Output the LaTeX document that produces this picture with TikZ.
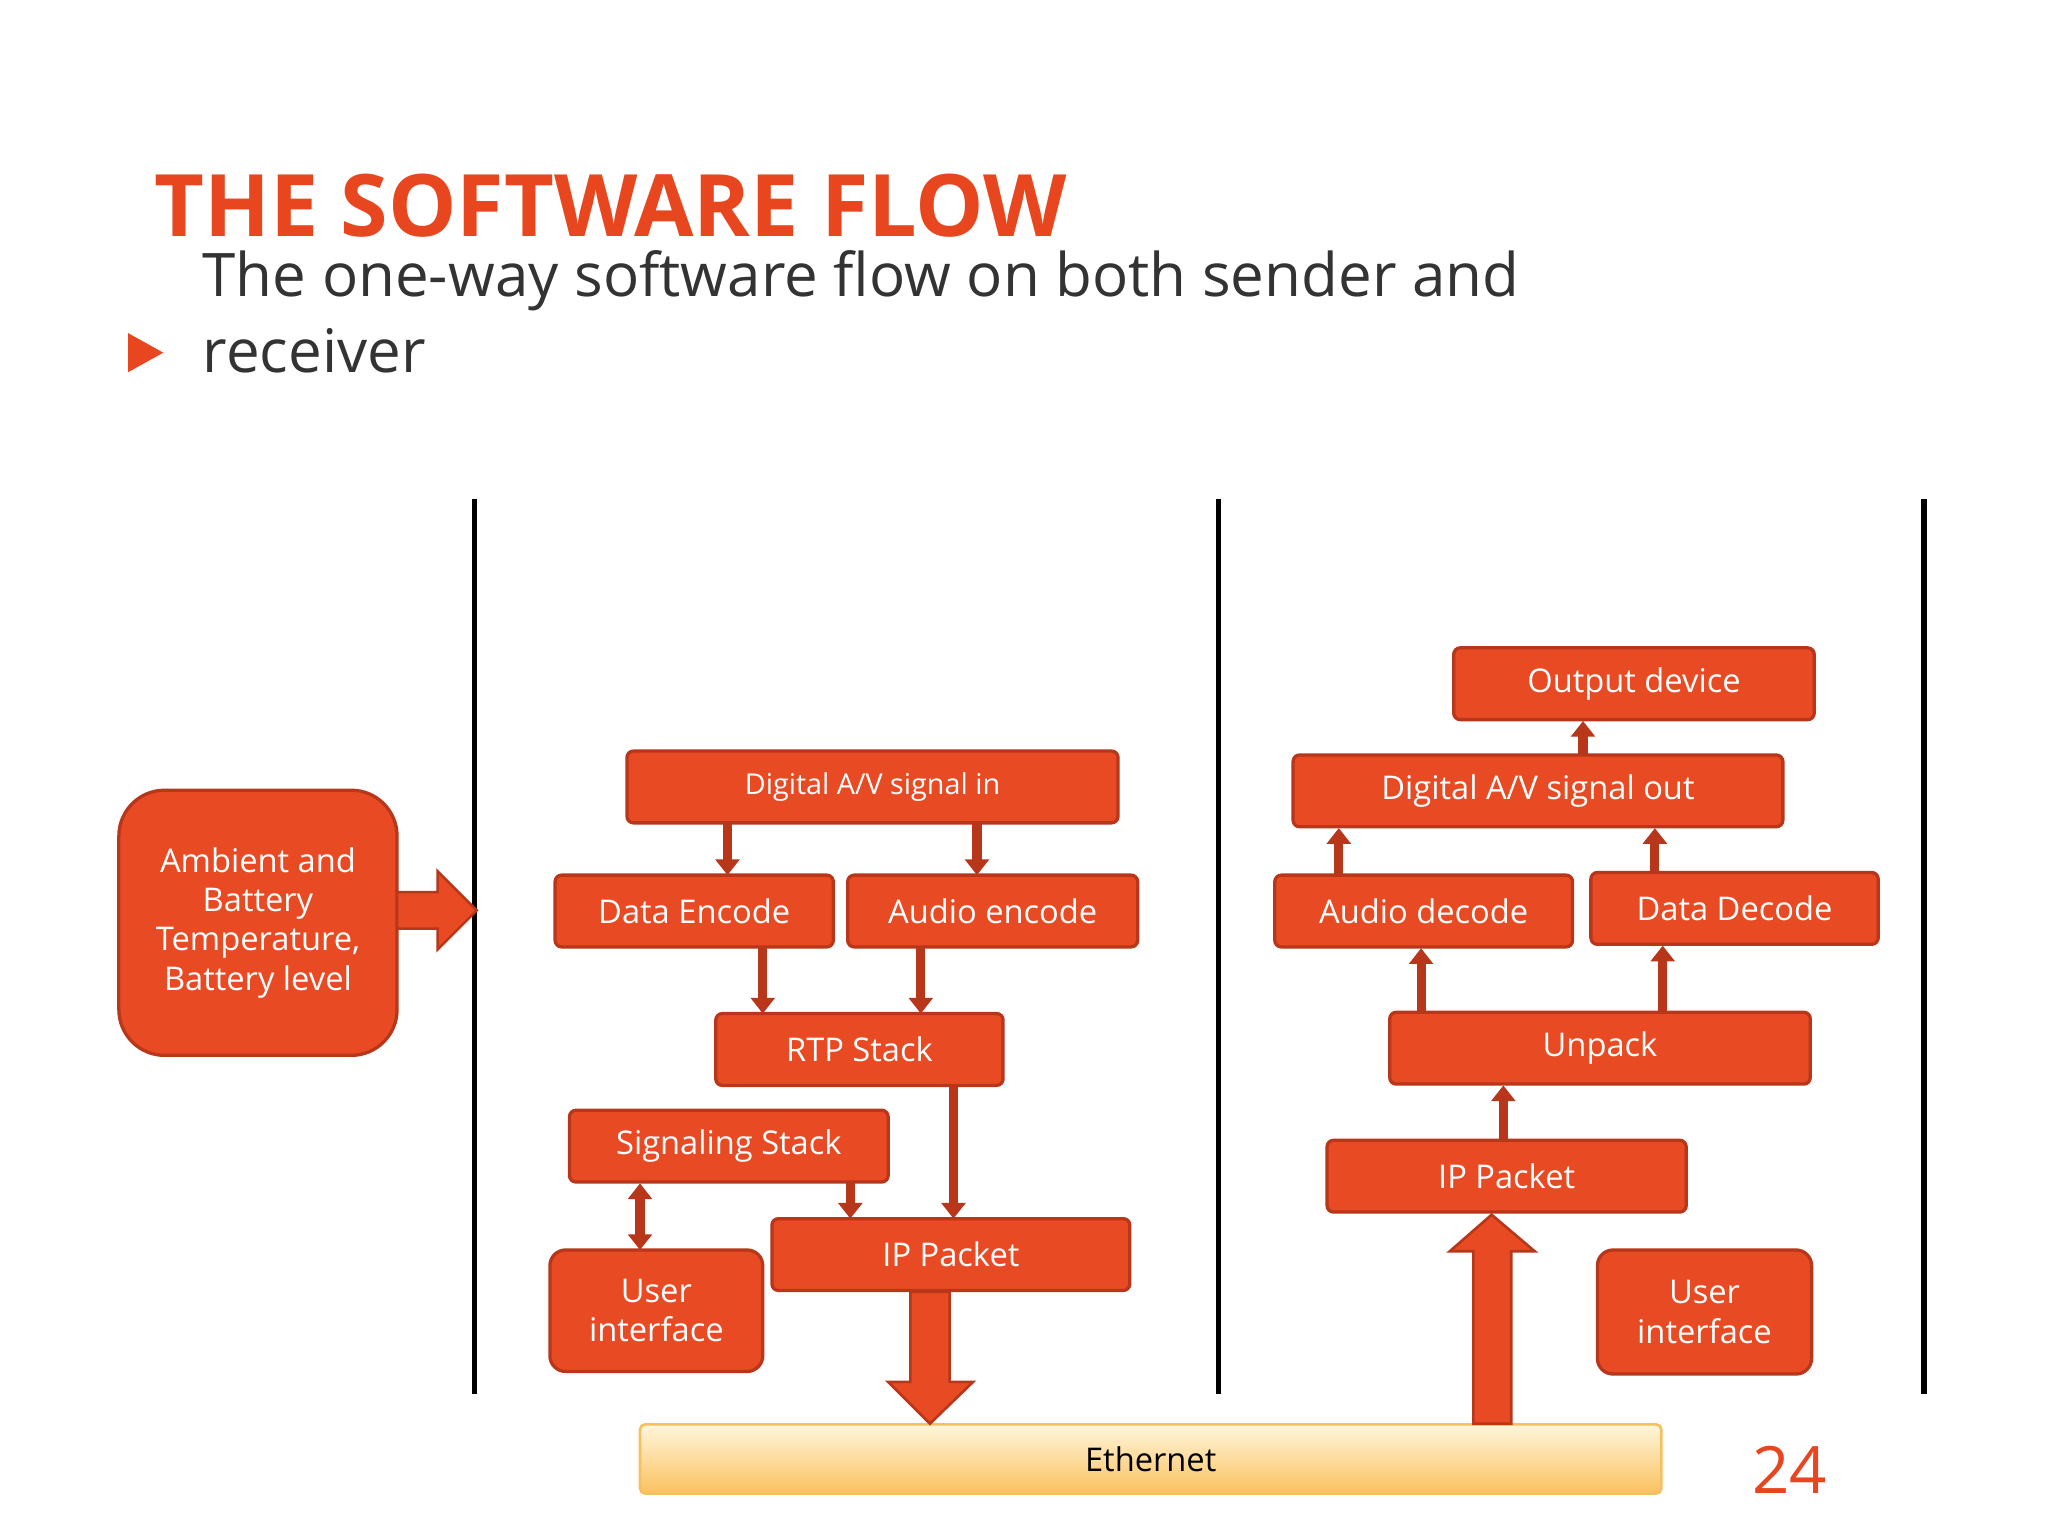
\documentclass[tikz,border=0pt]{standalone}
\usepackage{fontspec}
\setmainfont{Open Sans}
\usetikzlibrary{arrows.meta}
\definecolor{org}{HTML}{E84A23}
\definecolor{dorg}{HTML}{B8361A}
\definecolor{ttl}{HTML}{E8461E}
\definecolor{ethb}{HTML}{F5C060}
\definecolor{etht}{HTML}{FFF6DC}
\definecolor{ethbot}{HTML}{FBC15E}
\tikzset{
 bx/.style={draw=dorg,line width=2.5pt,fill=org,rounded corners=5pt,text=white,font=\fontsize{25}{30}\selectfont,align=center,inner sep=0pt},
 sm/.style={font=\fontsize{22}{26}\selectfont},
 ar/.style={draw=dorg,line width=7pt,-{Triangle[length=12pt,width=18pt]}},
 big/.style={fill=org,draw=dorg,line width=2pt},
}
\newcommand{\bxat}[5]{\node[bx,minimum width=#3-#1,minimum height=#4-#2] (#5) at ({(#1+#3)/2},{(#2+#4)/2})}
\begin{document}
\begin{tikzpicture}[x=1pt,y=-1pt]
\useasboundingbox[fill=white] (0,0) rectangle (1568,1176);
\node[anchor=base west,text=ttl,font=\fontsize{66}{70}\selectfont\bfseries,inner sep=0] (title) at (118,181) {THE SOFTWARE FLOW};
\fill[ttl] (98,255) -- (125,270) -- (98,285) -- cycle;
\node[anchor=base west,align=left,font=\fontsize{46}{58}\selectfont,text=black!80,inner sep=0] (sub) at (155,285) {The one-way software flow on both sender and\\receiver};
\foreach \x/\n in {363/l1,933/l2,1473/l3}{\draw[line width=4pt] (\x,382) coordinate (\n a) -- (\x,1067) coordinate (\n b);}
\bxat{91}{605}{304}{808}{amb}[rounded corners=35pt] {Ambient and\\Battery\\Temperature,\\Battery level};
\draw[big] (304,683) -- (335,683) -- (335,667) -- (365,697) -- (335,727) -- (335,711) -- (304,711) -- cycle;
\bxat{480}{575}{856}{630}{dav}[sm] {Digital A/V signal in};
\bxat{425}{670}{638}{725}{de} {Data Encode};
\bxat{649}{670}{871}{725}{ae} {Audio encode};
\bxat{548}{776}{768}{831}{rtp} {RTP Stack};
\bxat{436}{850}{680}{905}{sig} {Signaling Stack};
\bxat{591}{933}{865}{988}{ipl} {IP Packet};
\bxat{421}{957}{584}{1050}{uil}[rounded corners=12pt] {User\\interface};
\draw[ar] (557,631) -- (557,670);
\draw[ar] (748,631) -- (748,670);
\draw[ar] (584,726) -- (584,776);
\draw[ar] (705,726) -- (705,776);
\draw[ar] (730,832) -- (730,933);
\draw[ar] (651,906) -- (651,933);
\draw[ar,{Triangle[length=12pt,width=18pt]}-{Triangle[length=12pt,width=18pt]}] (490,906) -- (490,957);
\node[draw=ethb,line width=2pt,rounded corners=4pt,top color=etht,bottom color=ethbot,minimum width=782pt,minimum height=53pt,font=\fontsize{25}{30}\selectfont,inner sep=0] (eth) at (881,1117) {Ethernet};
\draw[big] (697,989) -- (727,989) -- (727,1058) -- (745,1058) -- (712,1090) -- (680,1058) -- (697,1058) -- cycle;
\node[text=ttl,font=\fontsize{50}{56}\selectfont,inner sep=0] (pg) at (1370,1125) {24};
\bxat{1113}{496}{1389}{551}{od} {Output device};
\bxat{990}{578}{1365}{633}{dao} {Digital A/V signal out};
\bxat{976}{670}{1204}{725}{ad} {Audio decode};
\bxat{1218}{668}{1438}{723}{dd} {Data Decode};
\bxat{1064}{775}{1386}{830}{up} {Unpack};
\bxat{1016}{873}{1291}{928}{ipr} {IP Packet};
\bxat{1223}{957}{1387}{1052}{uir}[rounded corners=12pt] {User\\interface};
\draw[ar] (1212,578) -- (1212,552);
\draw[ar] (1025,670) -- (1025,634);
\draw[ar] (1267,668) -- (1267,634);
\draw[ar] (1088,775) -- (1088,726);
\draw[ar] (1273,775) -- (1273,724);
\draw[ar] (1151,873) -- (1151,831);
\draw[big] (1128,1090) -- (1157,1090) -- (1157,958) -- (1175,958) -- (1142,930) -- (1110,958) -- (1128,958) -- cycle;
\end{tikzpicture}
\end{document}
